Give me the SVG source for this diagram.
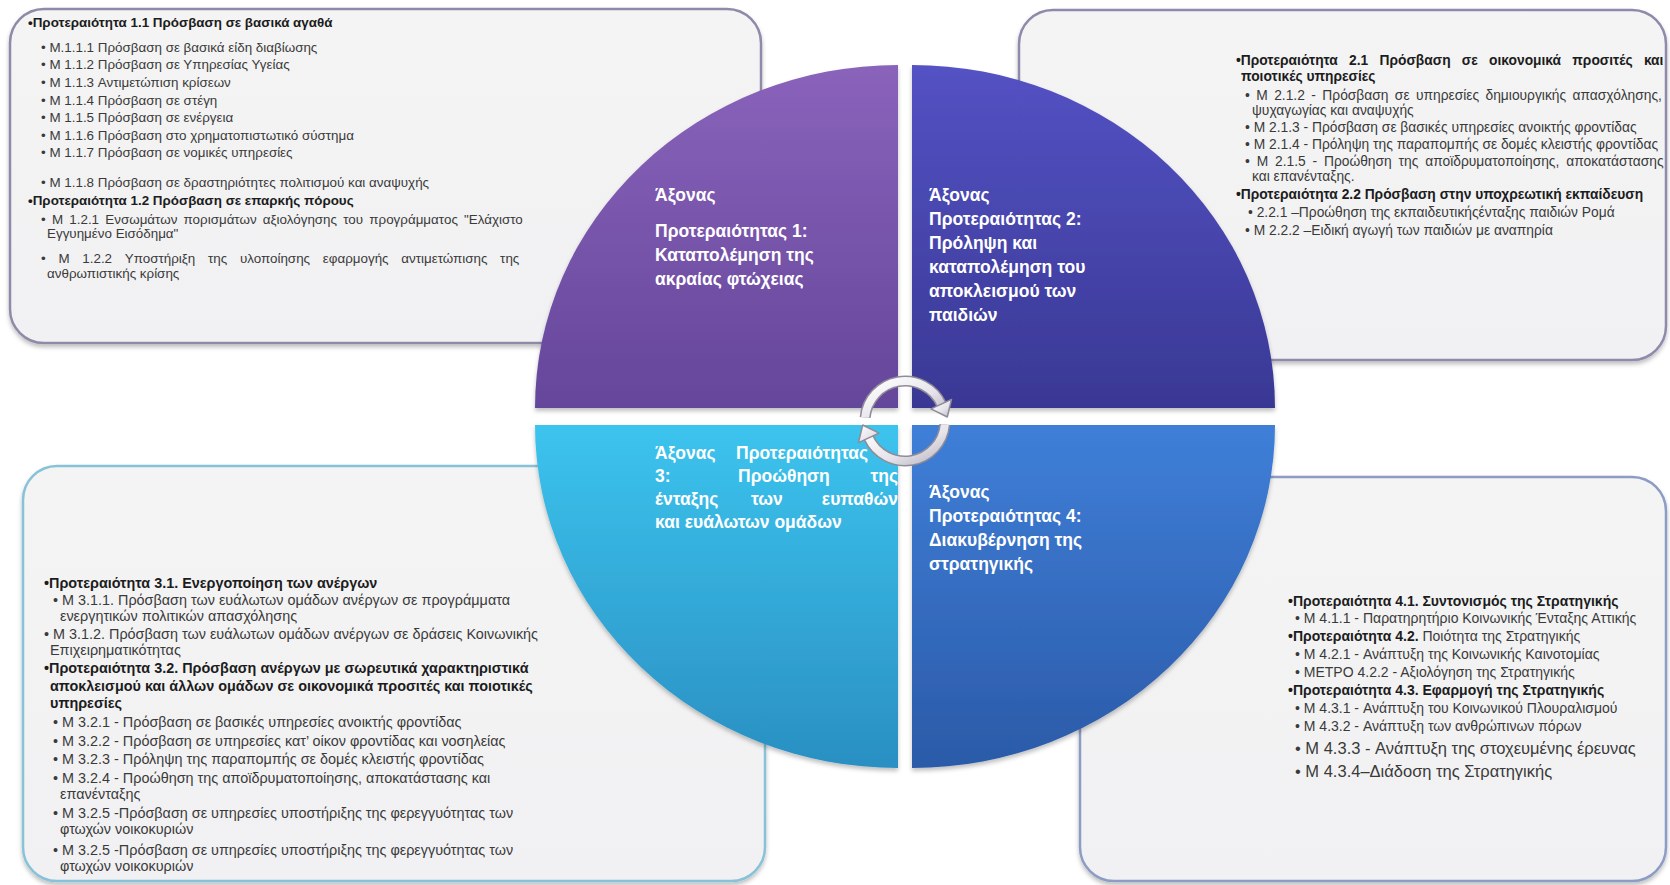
<svg xmlns="http://www.w3.org/2000/svg" width="1670" height="885" viewBox="0 0 1670 885">
<defs>
<style>
.box{fill:url(#boxFill);stroke-width:2.5}
.t{font-family:"Liberation Sans",Arial,sans-serif;fill:#3a3a3a}
.tl{font-size:13.4px}
.tr{font-size:13.8px}
.bl{font-size:14.4px}
.br{font-size:14px}
.b{font-weight:bold;fill:#1c1c1c}
.big{font-size:16.5px}
.q{font-family:"Liberation Sans",Arial,sans-serif;font-size:17.5px;font-weight:bold;fill:#ffffff}
</style>
<linearGradient id="boxFill" x1="0" y1="0" x2="0" y2="1"><stop offset="0" stop-color="#f4f4f4"/><stop offset="1" stop-color="#f1f1f3"/></linearGradient>
<linearGradient id="gPurple" x1="0" y1="0" x2="0" y2="1"><stop offset="0" stop-color="#8a63bb"/><stop offset="1" stop-color="#64469a"/></linearGradient>
<linearGradient id="gViolet" x1="0" y1="0" x2="0" y2="1"><stop offset="0" stop-color="#5452c4"/><stop offset="1" stop-color="#393894"/></linearGradient>
<linearGradient id="gCyan" x1="0" y1="0" x2="0" y2="1"><stop offset="0" stop-color="#3cc4ee"/><stop offset="1" stop-color="#2a8fc2"/></linearGradient>
<linearGradient id="gBlue" x1="0" y1="0" x2="0" y2="1"><stop offset="0" stop-color="#3f7fd8"/><stop offset="1" stop-color="#2b5aa8"/></linearGradient>
<linearGradient id="gArrow" x1="0" y1="0" x2="1" y2="1"><stop offset="0" stop-color="#ffffff"/><stop offset="0.6" stop-color="#e6e4ea"/><stop offset="1" stop-color="#b9b6c2"/></linearGradient>
<filter id="sh" x="-5%" y="-5%" width="110%" height="115%"><feDropShadow dx="0" dy="3" stdDeviation="2" flood-color="#000" flood-opacity="0.25"/></filter>
<clipPath id="clipCyan"><path d="M898,425 L898,768 A363 343 0 0 1 535,425 Z"/></clipPath>
</defs>

<g id="box-tl">
<rect class="box" x="10" y="9" width="751" height="334" rx="34" stroke="#8e8aa8" filter="url(#sh)"/>
<g class="t tl">
<text x="28" y="27" class="b">•Προτεραιότητα 1.1 Πρόσβαση σε βασικά αγαθά</text>
<text x="41" y="52">• M.1.1.1 Πρόσβαση σε βασικά είδη διαβίωσης</text>
<text x="41" y="69">• M 1.1.2 Πρόσβαση σε Υπηρεσίας Υγείας</text>
<text x="41" y="87">• M 1.1.3 Αντιμετώπιση κρίσεων</text>
<text x="41" y="104.5">• M 1.1.4 Πρόσβαση σε στέγη</text>
<text x="41" y="122">• M 1.1.5 Πρόσβαση σε ενέργεια</text>
<text x="41" y="139.5">• M 1.1.6 Πρόσβαση στο χρηματοπιστωτικό σύστημα</text>
<text x="41" y="157">• M 1.1.7 Πρόσβαση σε νομικές υπηρεσίες</text>
<text x="41" y="187">• M 1.1.8 Πρόσβαση σε δραστηριότητες πολιτισμού και αναψυχής</text>
<text x="28" y="205" class="b">•Προτεραιότητα 1.2 Πρόσβαση σε επαρκής πόρους</text>
<text x="41" y="224" word-spacing="2.5">• M 1.2.1 Ενσωμάτων πορισμάτων αξιολόγησης του προγράμματος "Ελάχιστο</text>
<text x="47" y="238">Εγγυημένο Εισόδημα"</text>
<text x="41" y="263" word-spacing="9">• M 1.2.2 Υποστήριξη της υλοποίησης εφαρμογής αντιμετώπισης της</text>
<text x="47" y="278">ανθρωπιστικής κρίσης</text>
</g>
</g>

<g id="box-tr">
<rect class="box" x="1019" y="10" width="647" height="350" rx="34" stroke="#8e8aac" filter="url(#sh)"/>
<g class="t tr">
<text x="1236" y="65" class="b" word-spacing="7.4">•Προτεραιότητα 2.1 Πρόσβαση σε οικονομικά προσιτές και</text>
<text x="1241" y="81" class="b">ποιοτικές υπηρεσίες</text>
<text x="1245" y="100" word-spacing="2.6">• M 2.1.2 - Πρόσβαση σε υπηρεσίες δημιουργικής απασχόλησης,</text>
<text x="1252" y="115">ψυχαγωγίας και αναψυχής</text>
<text x="1245" y="132">• M 2.1.3 - Πρόσβαση σε βασικές υπηρεσίες ανοικτής φροντίδας</text>
<text x="1245" y="149">• M 2.1.4 - Πρόληψη της παραπομπής σε δομές κλειστής φροντίδας</text>
<text x="1245" y="166" word-spacing="3">• M 2.1.5 - Προώθηση της αποϊδρυματοποίησης, αποκατάστασης</text>
<text x="1252" y="181">και επανένταξης.</text>
<text x="1236" y="199" class="b">•Προτεραιότητα 2.2 Πρόσβαση στην υποχρεωτική εκπαίδευση</text>
<text x="1248" y="217">• 2.2.1 –Προώθηση της εκπαιδευτικήςένταξης παιδιών Ρομά</text>
<text x="1245" y="235">• M 2.2.2 –Ειδική αγωγή των παιδιών με αναπηρία</text>
</g>
</g>

<g id="box-bl">
<rect class="box" x="23" y="466" width="742" height="415" rx="34" stroke="#88c2d8" filter="url(#sh)"/>
<g class="t bl">
<text x="44" y="588" class="b">•Προτεραιότητα 3.1. Ενεργοποίηση των ανέργων</text>
<text x="53" y="605">• M 3.1.1. Πρόσβαση των ευάλωτων ομάδων ανέργων σε προγράμματα</text>
<text x="60" y="621">ενεργητικών πολιτικών απασχόλησης</text>
<text x="44" y="639">• M 3.1.2. Πρόσβαση των ευάλωτων ομάδων ανέργων σε δράσεις Κοινωνικής</text>
<text x="50" y="655">Επιχειρηματικότητας</text>
<text x="44" y="673" class="b">•Προτεραιότητα 3.2. Πρόσβαση ανέργων με σωρευτικά χαρακτηριστικά</text>
<text x="50" y="691" class="b">αποκλεισμού και άλλων ομάδων σε οικονομικά προσιτές και ποιοτικές</text>
<text x="50" y="708" class="b">υπηρεσίες</text>
<text x="53" y="727">• M 3.2.1 - Πρόσβαση σε βασικές υπηρεσίες ανοικτής φροντίδας</text>
<text x="53" y="746">• M 3.2.2 - Πρόσβαση σε υπηρεσίες κατ’ οίκον φροντίδας και νοσηλείας</text>
<text x="53" y="764">•  M 3.2.3 - Πρόληψη της παραπομπής σε δομές κλειστής φροντίδας</text>
<text x="53" y="783">• M 3.2.4 - Προώθηση της αποϊδρυματοποίησης, αποκατάστασης και</text>
<text x="60" y="799">επανένταξης</text>
<text x="53" y="818">• M 3.2.5 -Πρόσβαση σε υπηρεσίες υποστήριξης της φερεγγυότητας των</text>
<text x="60" y="834">φτωχών νοικοκυριών</text>
<text x="53" y="855">• M 3.2.5 -Πρόσβαση σε υπηρεσίες υποστήριξης της φερεγγυότητας των</text>
<text x="60" y="871">φτωχών νοικοκυριών</text>
</g>
</g>

<g id="box-br">
<rect class="box" x="1080" y="477" width="586" height="404" rx="34" stroke="#8c9cc4" filter="url(#sh)"/>
<g class="t br">
<text x="1288" y="605.5" class="b">•Προτεραιότητα 4.1. Συντονισμός της Στρατηγικής</text>
<text x="1295" y="623">• M 4.1.1 - Παρατηρητήριο Κοινωνικής Ένταξης Αττικής</text>
<text x="1288" y="641"><tspan class="b">•Προτεραιότητα 4.2.</tspan> Ποιότητα της Στρατηγικής</text>
<text x="1295" y="659">• M 4.2.1 - Ανάπτυξη της Κοινωνικής Καινοτομίας</text>
<text x="1295" y="677">• ΜΕΤΡΟ 4.2.2 - Αξιολόγηση της Στρατηγικής</text>
<text x="1288" y="695" class="b">•Προτεραιότητα 4.3. Εφαρμογή της Στρατηγικής</text>
<text x="1295" y="713">• M 4.3.1 - Ανάπτυξη του Κοινωνικού Πλουραλισμού</text>
<text x="1295" y="731">• M 4.3.2 - Ανάπτυξη των ανθρώπινων πόρων</text>
<text x="1295" y="754" class="big">• M 4.3.3 - Ανάπτυξη της στοχευμένης έρευνας</text>
<text x="1295" y="777" class="big">• M 4.3.4–Διάδοση της Στρατηγικής</text>
</g>
</g>

<g id="axis-1">
<path d="M898,408 L535,408 A363 343 0 0 1 898,65 Z" fill="url(#gPurple)" filter="url(#sh)"/>
<g class="q">
<text x="655" y="201">Άξονας</text>
<text x="655" y="237">Προτεραιότητας 1:</text>
<text x="655" y="261">Καταπολέμηση της</text>
<text x="655" y="285">ακραίας φτώχειας</text>
</g>
</g>

<g id="axis-2">
<path d="M912,408 L912,65 A363 343 0 0 1 1275,408 Z" fill="url(#gViolet)" filter="url(#sh)"/>
<g class="q">
<text x="929" y="201">Άξονας</text>
<text x="929" y="225">Προτεραιότητας 2:</text>
<text x="929" y="249">Πρόληψη και</text>
<text x="929" y="273">καταπολέμηση του</text>
<text x="929" y="297">αποκλεισμού των</text>
<text x="929" y="321">παιδιών</text>
</g>
</g>

<g id="axis-3">
<path d="M898,425 L898,768 A363 343 0 0 1 535,425 Z" fill="url(#gCyan)" filter="url(#sh)"/>
<g class="q" clip-path="url(#clipCyan)">
<text x="655" y="459">Άξονας <tspan x="736">Προτεραιότητας</tspan></text>
<text x="655" y="482">3: <tspan x="738">Προώθηση</tspan> <tspan x="898" text-anchor="end">της</tspan></text>
<text x="655" y="505">ένταξης <tspan x="751">των</tspan> <tspan x="898" text-anchor="end">ευπαθών</tspan></text>
<text x="655" y="528">και ευάλωτων ομάδων</text>
</g>
</g>

<g id="axis-4">
<path d="M912,425 L1275,425 A363 343 0 0 1 912,768 Z" fill="url(#gBlue)" filter="url(#sh)"/>
<g class="q">
<text x="929" y="498">Άξονας</text>
<text x="929" y="522">Προτεραιότητας 4:</text>
<text x="929" y="546">Διακυβέρνηση της</text>
<text x="929" y="570">στρατηγικής</text>
</g>
</g>

<g id="connectors" transform="translate(905,421)">
<path d="M-39.85,-3.5 A40 40 0 0 1 36.25,-16.9" fill="none" stroke="#8f8b99" stroke-width="11"/>
<path d="M-39.85,-3.5 A40 40 0 0 1 36.25,-16.9" fill="none" stroke="url(#gArrow)" stroke-width="8"/>
<polygon points="46.5,-21.6 26,-12.1 42.3,-4" fill="url(#gArrow)" stroke="#8f8b99" stroke-width="1.5" stroke-linejoin="round"/>
<path d="M39.85,3.5 A40 40 0 0 1 -36.25,16.9" fill="none" stroke="#8f8b99" stroke-width="11"/>
<path d="M39.85,3.5 A40 40 0 0 1 -36.25,16.9" fill="none" stroke="url(#gArrow)" stroke-width="8"/>
<polygon points="-46.5,21.6 -26,12.1 -42.3,4" fill="url(#gArrow)" stroke="#8f8b99" stroke-width="1.5" stroke-linejoin="round"/>
</g>
</svg>
